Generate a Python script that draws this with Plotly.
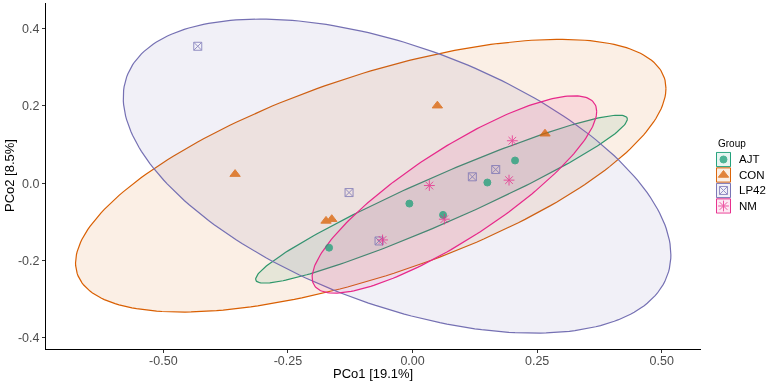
import numpy as np
import plotly.graph_objects as go

# ---------------- data ----------------
groups = ["AJT", "CON", "LP42", "NM"]

ajt_pco1 = [-0.1675, -0.0064, 0.0612, 0.1501, 0.2057]
ajt_pco2 = [-0.1673, -0.0530, -0.0823, 0.0016, 0.0587]

con_pco1 = [-0.3561, -0.1736, -0.1621, 0.0498, 0.2658]
con_pco2 = [0.0234, -0.0979, -0.0935, 0.2008, 0.1281]

lp42_pco1 = [-0.4310, -0.1274, -0.0672, 0.1200, 0.1669]
lp42_pco2 = [0.3548, -0.0244, -0.1499, 0.0164, 0.0353]

nm_pco1 = [-0.0602, 0.0337, 0.0638, 0.1936, 0.2002]
nm_pco2 = [-0.1473, -0.0062, -0.0935, 0.0078, 0.1099]

x_ticks = [-0.50, -0.25, 0.00, 0.25, 0.50]
y_ticks = [-0.4, -0.2, 0.0, 0.2, 0.4]

# ---------------- styles ----------------
colors = {"AJT": "#1B9E77", "CON": "#D95F02", "LP42": "#7570B3", "NM": "#E7298A"}
fills = {"AJT": "rgba(27,158,119,0.10)", "CON": "rgba(217,95,2,0.10)",
         "LP42": "rgba(117,112,179,0.10)", "NM": "rgba(231,41,138,0.10)"}
symbols = {"AJT": "circle", "CON": "triangle-up", "LP42": "square-x-open", "NM": "asterisk-open"}
sizes = {"AJT": 7, "CON": 9, "LP42": 8, "NM": 9}

data = {
    "AJT": (ajt_pco1, ajt_pco2),
    "CON": (con_pco1, con_pco2),
    "LP42": (lp42_pco1, lp42_pco2),
    "NM": (nm_pco1, nm_pco2),
}


def cov_trob(X, nu=5, maxit=25, tol=0.01):
    X = np.asarray(X, float)
    n, p = X.shape
    wt = np.ones(n)
    loc = X.mean(axis=0)
    w = np.sqrt(wt)
    Xc = X - loc
    for _ in range(maxit):
        w0 = w
        Xc = X - loc
        A = np.sqrt(w / w.sum())[:, None] * Xc
        _, d, Vt = np.linalg.svd(A, full_matrices=False)
        wX = Xc @ Vt.T @ np.diag(1.0 / d)
        Q = (wX ** 2).sum(axis=1)
        w = wt * (nu + p) / (nu + Q)
        loc = (w[:, None] * X).sum(axis=0) / w.sum()
        if np.all(np.abs(w - w0) < tol):
            break
    S = np.sqrt(w)[:, None] * Xc
    cov = S.T @ S / wt.sum()
    return cov, loc


def stat_ellipse(xs, ys, level=0.90, segments=240):
    X = np.column_stack([xs, ys])
    cov, center = cov_trob(X)
    dfn = 2
    dfd = len(xs) - 1
    fq = dfd / 2.0 * ((1 - level) ** (-2.0 / dfd) - 1)  # qf(level, 2, dfd)
    radius = np.sqrt(dfn * fq)
    R = np.linalg.cholesky(cov).T
    ang = np.arange(segments + 1) * 2 * np.pi / segments
    circ = np.column_stack([np.cos(ang), np.sin(ang)])
    ell = center + radius * (circ @ R)
    return ell[:, 0], ell[:, 1]


fig = go.Figure()

for g in groups:
    ex, ey = stat_ellipse(*data[g])
    fig.add_trace(go.Scatter(x=ex, y=ey, mode="lines", fill="toself",
                             fillcolor=fills[g], line=dict(color=colors[g], width=1.2),
                             hoverinfo="skip", showlegend=False))

for g in groups:
    xs, ys = data[g]
    fig.add_trace(go.Scatter(x=xs, y=ys, mode="markers", name=g, showlegend=False,
                             opacity=0.75,
                             marker=dict(symbol=symbols[g], size=sizes[g], color=colors[g],
                                         line=dict(color=colors[g], width=1))))

# legend keys on a hidden helper axis
for i, g in enumerate(groups):
    fig.add_trace(go.Scatter(x=[0], y=[i], xaxis="x2", yaxis="y2", mode="markers",
                             showlegend=False, hoverinfo="skip", opacity=0.75,
                             marker=dict(symbol=symbols[g], size=sizes[g], color=colors[g],
                                         line=dict(color=colors[g], width=1))))
    fig.add_shape(type="rect", xref="x2", yref="y2", x0=-0.47, x1=0.47,
                  y0=i - 0.46, y1=i + 0.46, line=dict(color=colors[g], width=1),
                  fillcolor=fills[g], layer="below")
    fig.add_annotation(text=g, xref="paper", yref="y2", x=0.9584, y=i,
                       xanchor="left", yanchor="middle", showarrow=False,
                       font=dict(size=11.5, color="#000000"))

fig.add_annotation(text="Group", xref="paper", yref="paper", x=0.9293, y=0.5925,
                   xanchor="left", yanchor="middle", showarrow=False,
                   font=dict(size=10, color="#000000"))

# axis titles
fig.add_annotation(text="PCo1 [19.1%]", xref="paper", yref="paper", x=0.4542, y=-0.0700,
                   xanchor="center", yanchor="middle", showarrow=False,
                   font=dict(size=13, color="#000000"))
fig.add_annotation(text="PCo2 [8.5%]", xref="paper", yref="paper", x=-0.0513, y=0.5,
                   xanchor="center", yanchor="middle", showarrow=False, textangle=-90,
                   font=dict(size=13, color="#000000"))

font_family = "Liberation Sans, Arial, sans-serif"
fig.update_layout(
    width=767, height=385,
    margin=dict(l=46, r=0, t=3, b=36),
    paper_bgcolor="white", plot_bgcolor="white",
    font=dict(family=font_family, color="#000000"),
    xaxis=dict(domain=[0, 655 / 721], range=[-0.7355, 0.5788],
               tickvals=x_ticks, ticktext=[f"{v:.2f}" for v in x_ticks],
               showgrid=False, zeroline=False, showline=True, linecolor="#000000", linewidth=1,
               ticks="outside", ticklen=3, tickcolor="#333333", ticklabelstandoff=-3,
               tickfont=dict(size=12.5, color="#4D4D4D")),
    yaxis=dict(range=[-0.430, 0.467],
               tickvals=y_ticks, ticktext=[f"{v:.1f}" for v in y_ticks],
               showgrid=False, zeroline=False, showline=True, linecolor="#000000", linewidth=1,
               ticks="outside", ticklen=3, tickcolor="#333333",
               tickfont=dict(size=12.5, color="#4D4D4D")),
    xaxis2=dict(domain=[0.92926, 0.95007], range=[-0.5, 0.5], anchor="y2", visible=False,
                fixedrange=True),
    yaxis2=dict(domain=[0.3909, 0.5701], range=[3.5, -0.5], anchor="x2", visible=False,
                fixedrange=True),
)

fig.write_html("out.html")
